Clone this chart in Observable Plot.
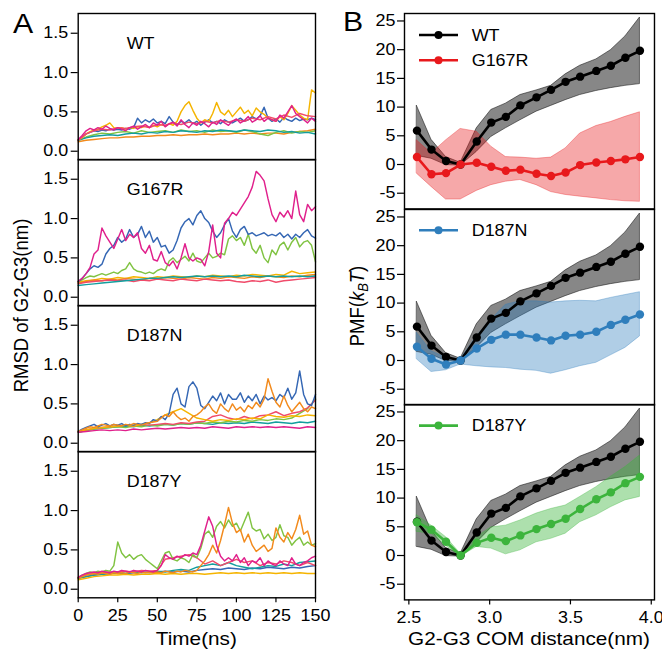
<!DOCTYPE html>
<html><head><meta charset="utf-8">
<script src="https://cdn.jsdelivr.net/npm/d3@7"></script>
<script src="https://cdn.jsdelivr.net/npm/@observablehq/plot@0.6"></script>
<style>
body{margin:0;background:#fff;}
#fig{position:relative;width:662px;height:650px;overflow:hidden;background:#fff;}
#fig svg{position:absolute;left:0;}
</style></head><body><div id="fig"></div>
<script>
// ---------------- Panel A: RMSD time series (nm) ----------------
const tFine = d3.range(0, 151, 2.5);   // 61 samples
const tCoarse = d3.range(0, 151, 5);   // 31 samples
const timeTicks = [0, 25, 50, 75, 100, 125, 150];
const rmsdTicks = [0, 0.5, 1.0, 1.5];
const rmsdDomain = [-0.109, 1.751];
const panelNamesA = ["WT", "G167R", "D187N", "D187Y"];

const wtYellow = [0.14,0.17,0.22,0.25,0.27,0.28,0.31,0.33,0.36,0.30, 0.29,0.30,0.28,0.30,0.29,0.31,0.30,0.32,0.30,0.33, 0.31,0.34,0.32,0.35,0.33,0.38,0.50,0.58,0.63,0.52, 0.42,0.36,0.40,0.38,0.48,0.62,0.50,0.46,0.52,0.44, 0.50,0.56,0.48,0.52,0.45,0.55,0.50,0.47,0.42,0.40, 0.38,0.44,0.40,0.48,0.58,0.52,0.46,0.42,0.40,0.78, 0.74];
const wtBlue = [0.14,0.18,0.22,0.24,0.26,0.25,0.27,0.26,0.28,0.27, 0.28,0.27,0.29,0.28,0.30,0.42,0.36,0.40,0.37,0.41, 0.36,0.38,0.35,0.44,0.37,0.34,0.38,0.36,0.40,0.35, 0.38,0.33,0.37,0.40,0.36,0.38,0.35,0.40,0.37,0.36, 0.39,0.42,0.38,0.40,0.44,0.41,0.45,0.56,0.42,0.38, 0.41,0.37,0.43,0.40,0.38,0.42,0.39,0.41,0.40,0.42, 0.40];
const wtMagenta = [0.15,0.20,0.26,0.29,0.27,0.30,0.28,0.32,0.29,0.27, 0.30,0.28,0.26,0.30,0.32,0.28,0.31,0.34,0.30,0.36, 0.33,0.38,0.31,0.35,0.37,0.32,0.40,0.34,0.30,0.36, 0.33,0.38,0.35,0.31,0.37,0.34,0.40,0.36,0.33,0.38, 0.41,0.36,0.39,0.44,0.37,0.40,0.45,0.38,0.42,0.40, 0.38,0.46,0.42,0.50,0.58,0.48,0.44,0.40,0.36,0.42, 0.38];
const wtPink = [0.14,0.22,0.26,0.28,0.27,0.30,0.29,0.31,0.32,0.30, 0.34,0.33,0.36,0.34,0.37,0.35,0.38,0.36,0.39,0.37, 0.40,0.38,0.42,0.40,0.44,0.41,0.46,0.43,0.48,0.45, 0.44];
const wtGreen = [0.14,0.18,0.21,0.23,0.22,0.24,0.25,0.23,0.26,0.24, 0.25,0.26,0.24,0.27,0.25,0.26,0.24,0.27,0.25,0.26, 0.24,0.27,0.25,0.22,0.20,0.24,0.26,0.23,0.25,0.24, 0.26];
const wtTeal = [0.14,0.17,0.19,0.20,0.21,0.20,0.22,0.23,0.22,0.24, 0.23,0.25,0.24,0.26,0.25,0.24,0.26,0.25,0.27,0.26, 0.25,0.27,0.26,0.25,0.27,0.26,0.24,0.25,0.23,0.24, 0.22];
const wtOrange = [0.12,0.14,0.15,0.16,0.17,0.17,0.18,0.18,0.19,0.19, 0.20,0.20,0.21,0.20,0.21,0.21,0.22,0.21,0.22,0.22, 0.23,0.22,0.23,0.22,0.23,0.23,0.22,0.24,0.25,0.26, 0.28];

const g1Magenta = [0.20,0.24,0.30,0.38,0.55,0.60,0.88,0.78,0.70,0.62, 0.74,0.86,0.72,0.80,0.76,0.82,0.62,0.56,0.66,0.48, 0.46,0.58,0.44,0.40,0.46,0.36,0.50,0.68,0.50,0.46, 0.50,0.48,0.40,0.58,0.92,0.56,0.50,0.94,1.00,1.08, 1.04,1.12,1.20,1.28,1.40,1.60,1.55,1.48,1.25,1.05, 0.96,1.08,1.02,1.10,1.00,1.35,1.05,0.96,1.18,1.10, 1.15];
const g1Blue = [0.20,0.24,0.30,0.36,0.40,0.38,0.42,0.55,0.62,0.66, 0.76,0.70,0.74,0.86,0.76,0.80,0.90,0.76,0.84,0.70, 0.76,0.64,0.66,0.56,0.60,0.72,0.88,0.96,1.00,0.92, 1.04,1.10,1.00,0.95,0.84,0.76,0.82,0.92,1.00,0.84, 0.76,0.86,0.90,0.80,0.82,0.78,0.80,0.82,0.78,0.80, 0.78,0.82,0.76,0.80,0.74,0.80,0.76,0.82,0.86,0.78, 0.75];
const g1Green = [0.20,0.22,0.25,0.27,0.26,0.28,0.30,0.28,0.30,0.32, 0.30,0.34,0.36,0.44,0.36,0.33,0.32,0.30,0.32,0.30, 0.34,0.36,0.34,0.46,0.50,0.44,0.48,0.52,0.46,0.56, 0.46,0.44,0.50,0.56,0.50,0.52,0.56,0.54,0.74,0.78, 0.72,0.76,0.66,0.80,0.62,0.56,0.66,0.50,0.44,0.60, 0.54,0.66,0.70,0.60,0.70,0.76,0.64,0.70,0.72,0.66, 0.45];
const g1Teal = [0.15,0.16,0.17,0.18,0.19,0.20,0.21,0.22,0.23,0.24, 0.24,0.25,0.26,0.25,0.26,0.27,0.26,0.27,0.26,0.27, 0.26,0.28,0.27,0.26,0.27,0.26,0.27,0.26,0.27,0.26, 0.27];
const g1Orange = [0.18,0.20,0.22,0.21,0.23,0.22,0.24,0.23,0.22,0.24, 0.23,0.25,0.24,0.23,0.25,0.24,0.23,0.25,0.24,0.26, 0.25,0.24,0.26,0.25,0.27,0.26,0.25,0.27,0.26,0.28, 0.29];
const g1Yellow = [0.19,0.21,0.22,0.24,0.23,0.25,0.24,0.26,0.25,0.24, 0.26,0.25,0.27,0.26,0.25,0.27,0.26,0.28,0.27,0.26, 0.28,0.27,0.29,0.28,0.27,0.29,0.28,0.33,0.30,0.31, 0.32];
const g1Pink = [0.17,0.19,0.20,0.21,0.22,0.21,0.22,0.20,0.22,0.21, 0.23,0.22,0.21,0.23,0.22,0.21,0.23,0.22,0.21,0.22, 0.20,0.19,0.21,0.20,0.22,0.19,0.21,0.22,0.23,0.24, 0.25];

const n1Blue = [0.15,0.18,0.20,0.22,0.24,0.21,0.23,0.25,0.22,0.24, 0.23,0.25,0.22,0.24,0.23,0.25,0.24,0.26,0.25,0.30, 0.28,0.34,0.30,0.38,0.62,0.70,0.50,0.46,0.72,0.78, 0.70,0.48,0.44,0.52,0.60,0.54,0.64,0.50,0.62,0.56, 0.56,0.64,0.52,0.60,0.54,0.62,0.50,0.60,0.55,0.58, 0.54,0.62,0.58,0.70,0.56,0.64,0.92,0.62,0.50,0.48, 0.62];
const n1Orange = [0.15,0.17,0.19,0.21,0.20,0.22,0.24,0.23,0.22,0.24, 0.23,0.22,0.24,0.23,0.25,0.24,0.23,0.25,0.26,0.27, 0.28,0.32,0.36,0.34,0.40,0.34,0.30,0.32,0.28,0.34, 0.36,0.40,0.46,0.50,0.42,0.38,0.50,0.44,0.40,0.50, 0.42,0.46,0.40,0.48,0.44,0.52,0.46,0.56,0.82,0.66, 0.52,0.46,0.60,0.48,0.40,0.46,0.52,0.44,0.40,0.46, 0.44];
const n1Yellow = [0.15,0.17,0.19,0.20,0.21,0.22,0.23,0.22,0.24,0.26, 0.30,0.36,0.40,0.44,0.38,0.32,0.30,0.28,0.30,0.29, 0.31,0.30,0.32,0.31,0.36,0.34,0.33,0.35,0.34,0.36, 0.35];
const n1Pink = [0.15,0.17,0.19,0.20,0.21,0.22,0.23,0.22,0.24,0.23, 0.24,0.25,0.24,0.26,0.25,0.27,0.28,0.34,0.36,0.32, 0.30,0.34,0.31,0.35,0.36,0.40,0.35,0.38,0.40,0.45, 0.55];
const n1Green = [0.14,0.16,0.18,0.19,0.20,0.21,0.20,0.22,0.21,0.23, 0.22,0.24,0.23,0.25,0.24,0.26,0.25,0.27,0.26,0.28, 0.27,0.29,0.28,0.30,0.29,0.31,0.30,0.32,0.38,0.44, 0.56];
const n1Teal = [0.14,0.16,0.18,0.19,0.20,0.21,0.22,0.21,0.23,0.22, 0.23,0.24,0.23,0.25,0.24,0.26,0.25,0.24,0.26,0.25, 0.26,0.25,0.27,0.26,0.25,0.27,0.26,0.25,0.27,0.26, 0.28];
const n1Magenta = [0.14,0.15,0.16,0.17,0.16,0.17,0.16,0.18,0.17,0.18, 0.19,0.18,0.19,0.20,0.19,0.20,0.19,0.21,0.20,0.19, 0.21,0.20,0.21,0.20,0.21,0.20,0.21,0.20,0.19,0.21, 0.20];

const y1Green = [0.15,0.18,0.20,0.22,0.21,0.23,0.22,0.24,0.23,0.30, 0.60,0.46,0.40,0.44,0.38,0.42,0.44,0.38,0.34,0.30, 0.26,0.36,0.46,0.48,0.38,0.36,0.40,0.38,0.34,0.44, 0.40,0.52,0.70,0.74,0.66,0.80,0.86,0.78,0.88,0.80, 0.84,0.74,0.86,0.98,0.78,0.74,0.76,0.64,0.70,0.62, 0.66,0.82,0.68,0.66,0.56,0.62,0.66,0.56,0.60,0.56, 0.58];
const y1Orange = [0.14,0.16,0.18,0.19,0.20,0.19,0.21,0.20,0.19,0.21, 0.20,0.21,0.20,0.22,0.21,0.20,0.22,0.21,0.22,0.21, 0.22,0.21,0.23,0.22,0.21,0.23,0.22,0.24,0.23,0.22, 0.24,0.30,0.36,0.44,0.56,0.46,0.62,0.82,1.04,0.84, 0.72,0.76,0.60,0.70,0.56,0.48,0.52,0.56,0.48,0.52, 0.78,0.66,0.60,0.72,0.64,0.76,0.94,0.70,0.74,0.56, 0.54];
const y1Magenta = [0.15,0.18,0.20,0.21,0.22,0.21,0.23,0.22,0.21,0.23, 0.22,0.24,0.23,0.22,0.24,0.23,0.22,0.24,0.23,0.22, 0.24,0.30,0.44,0.40,0.38,0.42,0.40,0.44,0.42,0.46, 0.44,0.56,0.74,0.92,0.80,0.56,0.42,0.36,0.40,0.36, 0.44,0.34,0.40,0.30,0.36,0.34,0.40,0.30,0.36,0.32, 0.30,0.36,0.32,0.30,0.40,0.32,0.30,0.34,0.36,0.40, 0.42];
const y1Pink = [0.15,0.18,0.20,0.21,0.22,0.22,0.23,0.22,0.24,0.23, 0.24,0.38,0.40,0.42,0.44,0.40,0.32,0.36,0.30,0.34, 0.38,0.34,0.36,0.30,0.34,0.32,0.36,0.34,0.30,0.34, 0.30];
const y1Teal = [0.14,0.16,0.18,0.19,0.20,0.21,0.20,0.22,0.21,0.22, 0.23,0.22,0.24,0.25,0.24,0.28,0.30,0.32,0.30,0.34, 0.30,0.28,0.26,0.28,0.30,0.29,0.32,0.30,0.34,0.35, 0.36];
const y1Blue = [0.14,0.16,0.18,0.19,0.20,0.21,0.20,0.21,0.22,0.21, 0.22,0.23,0.22,0.23,0.22,0.24,0.25,0.26,0.25,0.27, 0.26,0.25,0.27,0.26,0.28,0.27,0.26,0.28,0.27,0.29, 0.30];
const y1Yellow = [0.12,0.14,0.16,0.17,0.18,0.18,0.19,0.18,0.19,0.19, 0.20,0.19,0.20,0.19,0.20,0.20,0.19,0.20,0.21,0.20, 0.21,0.20,0.21,0.20,0.21,0.20,0.21,0.20,0.21,0.20, 0.20];

// ---------------- Panel B: PMF (kBT) vs COM distance (nm) ----------------
const dist = [2.55, 2.64, 2.73, 2.82, 2.92, 3.01, 3.10, 3.19, 3.29, 3.38, 3.47, 3.56, 3.66, 3.75, 3.84, 3.93];
const distTicks = [2.5, 3.0, 3.5, 4.0];
const pmfTicks = [-5, 0, 5, 10, 15, 20, 25];
const wtMean = [5.9, 2.6, 0.6, 0.0, 4.0, 7.3, 8.3, 10.3, 11.7, 13.0, 14.4, 15.3, 16.3, 17.2, 18.6, 19.8];
const wtHigh = [10.2, 4.3, 1.3, 0.3, 6.3, 9.5, 10.6, 12.1, 12.9, 13.7, 15.7, 17.2, 18.3, 19.9, 22.3, 25.6];
const wtLow  = [1.5, 1.0, -0.1, -0.2, 2.2, 4.8, 6.3, 7.7, 9.2, 10.2, 11.2, 12.1, 12.8, 13.3, 13.7, 14.0];
const g167rMean = [1.3, -1.7, -1.5, 0.0, 0.3, -0.4, -1.1, -0.9, -1.6, -2.0, -1.4, -0.1, 0.35, 0.6, 0.9, 1.3];
const g167rHigh = [4.2, 1.9, 4.2, 6.2, 5.7, 3.1, 1.3, 1.2, 1.0, 1.2, 2.8, 5.4, 6.7, 7.4, 8.3, 9.1];
const g167rLow  = [-1.6, -3.9, -6.1, -6.1, -4.6, -3.6, -3.0, -2.7, -3.6, -4.8, -5.3, -5.6, -5.9, -6.2, -6.4, -6.5];
const d187nMean = [2.4, 0.3, -0.7, 0.0, 2.1, 3.6, 4.5, 4.5, 4.0, 3.5, 4.3, 4.5, 5.0, 6.2, 7.1, 8.0];
const d187nHigh = [4.8, 1.6, 0.5, 0.2, 4.2, 7.1, 9.7, 10.3, 10.3, 10.1, 10.3, 10.4, 10.3, 10.9, 11.4, 11.9];
const d187nLow  = [0.2, -2.0, -1.7, -0.7, -1.0, -1.2, -1.3, -1.6, -1.8, -2.3, -1.7, -1.0, -0.4, 0.9, 2.2, 4.2];
const d187yMean = [5.8, 4.5, 2.4, 0.0, 2.2, 3.1, 2.5, 3.5, 4.6, 5.5, 6.4, 8.1, 9.8, 11.0, 12.6, 13.7];
const d187yHigh = [7.0, 5.2, 3.2, 0.3, 3.2, 4.9, 5.2, 6.1, 7.3, 8.1, 8.7, 10.2, 11.9, 13.7, 15.4, 17.4];
const d187yLow  = [4.1, 3.8, 1.7, -0.2, 1.5, 1.2, 0.2, 0.9, 2.3, 2.9, 3.8, 5.8, 7.0, 8.4, 9.6, 10.2];

// ---------------- styling / layout ----------------
const C = {yellow:"#f5b400", magenta:"#e0208c", blue:"#3567b4", green:"#80c342", teal:"#139e9e", orange:"#f28a1c", pink:"#f04b6a"};
const M = {WT:"#000000", G167R:"#e8191c", D187N:"#2f7ebc", D187Y:"#3cb43c"};
const FONT = "'Liberation Sans', Arial, Helvetica, sans-serif";
const SX = 1.12;
const LEFT = {x0: 77.7, x1: 315, tops: [12.5, 158.8, 305.1, 451.4], h: 146.3};
const RIGHT = {x0: 404, x1: 654, tops: [13.3, 208.6, 403.9], h: 195.4};
const fig = document.getElementById("fig");

function stretchTexts(svg){
  svg.querySelectorAll("text").forEach(t => {
    if (t.classList.contains("nostretch")) return;
    const L = t.getComputedTextLength();
    if (L > 0){ t.setAttribute("textLength", (L*SX).toFixed(2)); t.setAttribute("lengthAdjust","spacingAndGlyphs"); }
  });
}
function place(svg, top){
  svg.style.position = "absolute"; svg.style.left = "0px"; svg.style.top = top + "px";
  fig.appendChild(svg); stretchTexts(svg);
}
const baseStyle = {fontFamily: FONT, fontSize: "16px", background: "none", overflow: "visible", color: "black", maxWidth: "none"};

const panelsA = [
  [ {v: wtOrange, c: C.orange}, {v: wtGreen, c: C.green}, {v: wtTeal, c: C.teal}, {v: wtBlue, c: C.blue}, {v: wtYellow, c: C.yellow}, {v: wtPink, c: C.pink}, {v: wtMagenta, c: C.magenta} ],
  [ {v: g1Yellow, c: C.yellow}, {v: g1Orange, c: C.orange}, {v: g1Pink, c: C.pink}, {v: g1Teal, c: C.teal}, {v: g1Green, c: C.green}, {v: g1Blue, c: C.blue}, {v: g1Magenta, c: C.magenta} ],
  [ {v: n1Teal, c: C.teal}, {v: n1Green, c: C.green}, {v: n1Pink, c: C.pink}, {v: n1Yellow, c: C.yellow}, {v: n1Blue, c: C.blue}, {v: n1Orange, c: C.orange}, {v: n1Magenta, c: C.magenta} ],
  [ {v: y1Blue, c: C.blue}, {v: y1Teal, c: C.teal}, {v: y1Yellow, c: C.yellow}, {v: y1Pink, c: C.pink}, {v: y1Green, c: C.green}, {v: y1Orange, c: C.orange}, {v: y1Magenta, c: C.magenta} ]
];

panelsA.forEach((traces, i) => {
  const bottom = i === panelsA.length - 1;
  const mt = 4, mb = bottom ? 40 : 4;
  const marks = [];
  for (const tr of traces){
    const ts = tr.v.length === tFine.length ? tFine : tCoarse;
    const rows = tr.v.map((v, j) => ({t: ts[j], v}));
    marks.push(Plot.line(rows, {x: "t", y: "v", stroke: tr.c, strokeWidth: 1.45, strokeLinejoin: "round"}));
  }
  marks.push(Plot.text([panelNamesA[i]], {text: d => d, frameAnchor: "top-left", dx: 48.5, dy: 24, textAnchor: "start", lineAnchor: "top", fontSize: 16, fill: "black"}));
  marks.push(Plot.axisY({ticks: rmsdTicks, tickFormat: d3.format(".1f"), tickSize: 7, tickPadding: 3, label: null, strokeWidth: 1.2, fontSize: 16}));
  if (bottom) marks.push(Plot.axisX({ticks: timeTicks, tickFormat: d => String(d), tickSize: 5, tickPadding: 7, label: null, strokeWidth: 1.2, fontSize: 16}));
  marks.push(Plot.frame({stroke: "black", strokeWidth: 1.4}));
  const svg = Plot.plot({
    width: 662, height: mt + LEFT.h + mb,
    marginLeft: LEFT.x0, marginRight: 662 - LEFT.x1, marginTop: mt, marginBottom: mb,
    x: {domain: [0, 150], axis: null}, y: {domain: rmsdDomain, axis: null},
    style: baseStyle, marks
  });
  place(svg, LEFT.tops[i] - mt);
});

const mutants = [
  {name: "G167R", mean: g167rMean, low: g167rLow, high: g167rHigh, color: M.G167R, op: 0.38},
  {name: "D187N", mean: d187nMean, low: d187nLow, high: d187nHigh, color: M.D187N, op: 0.38},
  {name: "D187Y", mean: d187yMean, low: d187yLow, high: d187yHigh, color: M.D187Y, op: 0.42}
];
const rowsOf = (m, lo, hi) => dist.map((d, i) => ({d, m: m[i], lo: lo[i], hi: hi[i]}));
const wtRows = rowsOf(wtMean, wtLow, wtHigh);

mutants.forEach((mu, i) => {
  const bottom = i === mutants.length - 1;
  const mt = 4, mb = bottom ? 40 : 4;
  const r = rowsOf(mu.mean, mu.low, mu.high);
  const marks = [
    Plot.areaY(wtRows, {x: "d", y1: "lo", y2: "hi", fill: "black", fillOpacity: 0.47, stroke: "black", strokeOpacity: 0.5, strokeWidth: 1}),
    Plot.areaY(r, {x: "d", y1: "lo", y2: "hi", fill: mu.color, fillOpacity: mu.op, stroke: mu.color, strokeOpacity: 0.35, strokeWidth: 1}),
    Plot.line(wtRows, {x: "d", y: "m", stroke: M.WT, strokeWidth: 2.6}),
    Plot.dot(wtRows, {x: "d", y: "m", fill: M.WT, r: 4.2}),
    Plot.line(r, {x: "d", y: "m", stroke: mu.color, strokeWidth: 2.6}),
    Plot.dot(r, {x: "d", y: "m", fill: mu.color, r: 4.2}),
    Plot.axisY({ticks: pmfTicks, tickFormat: d => String(d), tickSize: 7, tickPadding: 2, label: null, strokeWidth: 1.2, fontSize: 16})
  ];
  if (bottom) marks.push(Plot.axisX({ticks: distTicks, tickFormat: d3.format(".1f"), tickSize: 5, tickPadding: 7, label: null, strokeWidth: 1.2, fontSize: 16}));
  marks.push(Plot.frame({stroke: "black", strokeWidth: 1.4}));
  const svg = Plot.plot({
    width: 662, height: mt + RIGHT.h + mb,
    marginLeft: RIGHT.x0, marginRight: 662 - RIGHT.x1, marginTop: mt, marginBottom: mb,
    x: {domain: [2.473, 4.02], axis: null}, y: {domain: [-7.73, 26.3], axis: null},
    style: baseStyle, marks
  });
  place(svg, RIGHT.tops[i] - mt);
});

// ---------------- labels & legends overlay ----------------
const ov = d3.select(fig).append("svg")
  .attr("width", 662).attr("height", 650)
  .style("position", "absolute").style("left", "0px").style("top", "0px")
  .style("font-family", FONT).style("overflow", "visible");

ov.append("text").attr("x", 13).attr("y", 33).attr("font-size", 27).text("A");
ov.append("text").attr("x", 343).attr("y", 31).attr("font-size", 27).text("B");
ov.append("text").attr("x", (LEFT.x0 + LEFT.x1) / 2).attr("y", 645).attr("text-anchor", "middle").attr("font-size", 18.5).text("Time(ns)");
ov.append("text").attr("x", (RIGHT.x0 + RIGHT.x1) / 2).attr("y", 645).attr("text-anchor", "middle").attr("font-size", 18.5).text("G2-G3 COM distance(nm)");
ov.append("text").attr("class", "nostretch")
  .attr("transform", "translate(28.3,305.5) scale(1.12,1) rotate(-90)")
  .attr("text-anchor", "middle").attr("font-size", 18.5).text("RMSD of G2-G3(nm)");
const pmf = ov.append("text").attr("class", "nostretch")
  .attr("transform", "translate(364,306) scale(1.12,1) rotate(-90)")
  .attr("text-anchor", "middle").attr("font-size", 18.5);
pmf.append("tspan").text("PMF(");
pmf.append("tspan").attr("font-style", "italic").text("k");
pmf.append("tspan").attr("font-style", "italic").attr("font-size", 13).attr("dy", 4).text("B");
pmf.append("tspan").attr("font-style", "italic").attr("dy", -4).text("T");
pmf.append("tspan").text(")");

const legendRows = [
  {name: "WT", color: M.WT, panel: 0, row: 0},
  {name: "G167R", color: M.G167R, panel: 0, row: 1},
  {name: "D187N", color: M.D187N, panel: 1, row: 0},
  {name: "D187Y", color: M.D187Y, panel: 2, row: 0}
];
legendRows.forEach(e => {
  const y = RIGHT.tops[e.panel] + 21.7 + e.row * 25.3;
  ov.append("line").attr("x1", 419).attr("x2", 458).attr("y1", y).attr("y2", y).attr("stroke", e.color).attr("stroke-width", 2.6);
  ov.append("circle").attr("cx", 438.5).attr("cy", y).attr("r", 4).attr("fill", e.color);
  ov.append("text").attr("x", 471.7).attr("y", y + 5.7).attr("font-size", 16).text(e.name);
});
stretchTexts(ov.node());
</script>
</body></html>
